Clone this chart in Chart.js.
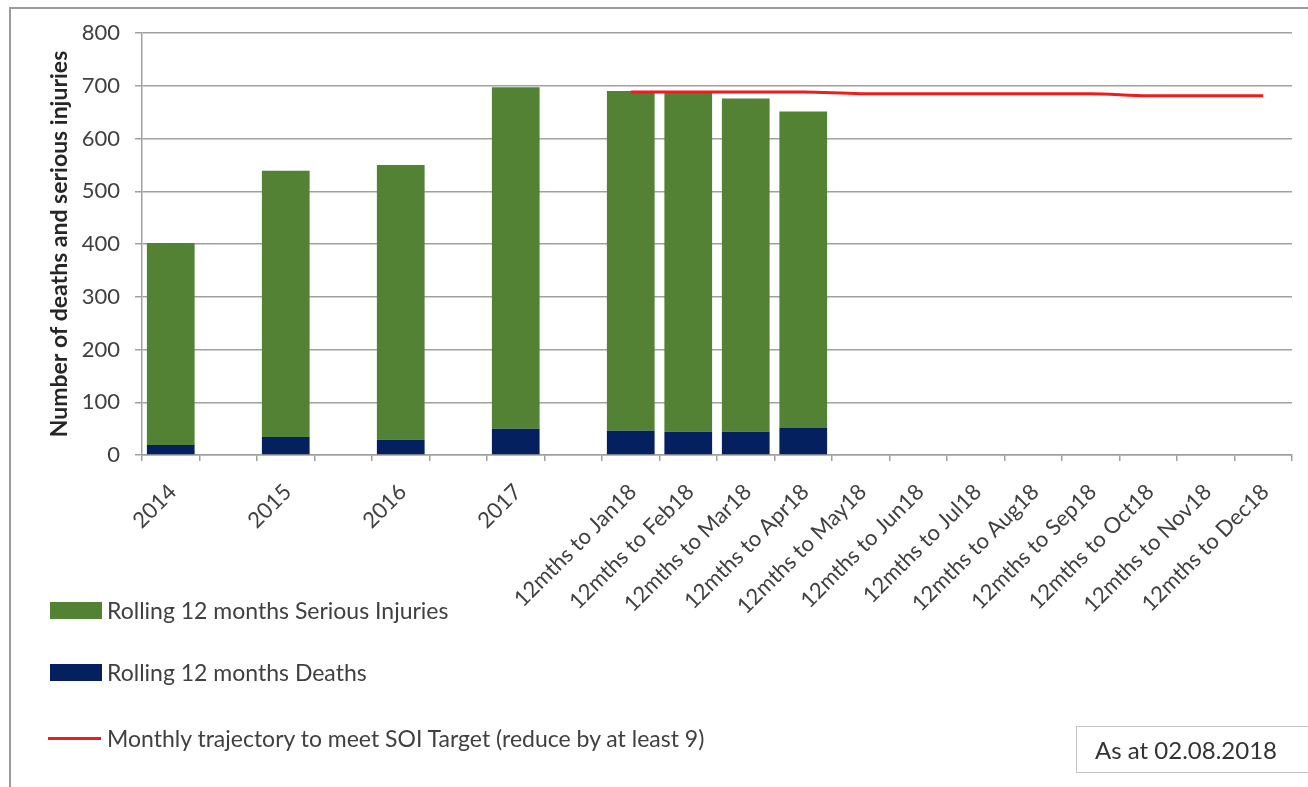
<!DOCTYPE html>
<html>
<head>
<meta charset="utf-8">
<title>Rolling 12 months deaths and serious injuries</title>
<script src="https://cdn.jsdelivr.net/npm/chart.js@4.4.1/dist/chart.umd.min.js"></script>
<style>
  html, body { margin: 0; padding: 0; background: #fff; }
  #wrap { position: relative; width: 1308px; height: 787px; overflow: hidden; font-family: Lato, "Open Sans", sans-serif; }
  #frame { position: absolute; left: 9px; top: 7px; width: 1400px; height: 900px;
           border-left: 2px solid #9c9c9c; border-top: 2px solid #9c9c9c; }
  #chart { position: absolute; left: 0; top: 0; }
  .item { position: absolute; left: 50px; height: 30px; display: flex; align-items: center;
          font-size: 23px; color: #404040; white-space: nowrap; }
  .swatch { width: 52px; height: 17px; margin-right: 5px; }
  .stroke { width: 53px; height: 3px; margin-right: 6px; }
  #stamp { position: absolute; left: 1076px; top: 726px; width: 240px; height: 47px; box-sizing: border-box;
           border: 1px solid #c4c4c4; font-size: 24px; color: #333; line-height: 45px; padding-left: 18px; }
</style>
</head>
<body>
<div id="wrap">
  <div id="frame"></div>
  <canvas id="chart" width="1308" height="787"></canvas>
  <div id="legend"></div>
  <div id="stamp">As at 02.08.2018</div>
</div>
<script>
// Category axis: calendar years, spacer slots, then rolling 12-month periods of 2018
const categories = [
  '2014', '', '2015', '', '2016', '', '2017', '',
  '12mths to Jan18', '12mths to Feb18', '12mths to Mar18', '12mths to Apr18',
  '12mths to May18', '12mths to Jun18', '12mths to Jul18', '12mths to Aug18',
  '12mths to Sep18', '12mths to Oct18', '12mths to Nov18', '12mths to Dec18'
];

// Rolling 12 months deaths (bottom of each stack)
const deaths = [19, null, 34, null, 29, null, 50, null, 46, 44, 44, 52,
                null, null, null, null, null, null, null, null];

// Rolling 12 months serious injuries (stacked on deaths)
const seriousInjuries = [383, null, 505, null, 521, null, 647, null, 644, 643, 632, 599,
                         null, null, null, null, null, null, null, null];

// Monthly trajectory to meet the SOI target
const trajectory = [null, null, null, null, null, null, null, null,
                    688, 688, 688, 688, 685, 685, 685, 685, 685, 681, 681, 681];

const yTicks = { min: 0, max: 800, step: 100 };

const GREEN = '#548235';
const NAVY = '#05205f';
const RED = '#f01c1c';
const GRID = '#a0a0a0';
const TEXT = '#404040';

const ctx = document.getElementById('chart').getContext('2d');
const chart = new Chart(ctx, {
  type: 'bar',
  data: {
    labels: categories,
    datasets: [
      { label: 'Rolling 12 months Deaths', data: deaths, backgroundColor: NAVY,
        stack: 'total', barPercentage: 0.83, categoryPercentage: 1, order: 2 },
      { label: 'Rolling 12 months Serious Injuries', data: seriousInjuries, backgroundColor: GREEN,
        stack: 'total', barPercentage: 0.83, categoryPercentage: 1, order: 2 },
      { type: 'line', label: 'Monthly trajectory to meet SOI Target (reduce by at least 9)',
        data: trajectory, borderColor: RED, backgroundColor: RED, borderWidth: 3,
        pointRadius: 0, cubicInterpolationMode: 'monotone', spanGaps: false, order: 1 }
    ]
  },
  options: {
    responsive: false,
    animation: false,
    layout: { padding: { top: 33, right: 16, bottom: 0, left: 0 } },
    plugins: { legend: { display: false }, tooltip: { enabled: false } },
    scales: {
      x: {
        stacked: true,
        offset: true,
        grid: { display: true, drawOnChartArea: false, drawTicks: true, tickLength: 6,
                offset: true, color: GRID, lineWidth: 1.5 },
        border: { display: true, color: GRID, width: 1.5 },
        ticks: { autoSkip: false, minRotation: 45, maxRotation: 45, padding: 18, labelOffset: 2,
                 color: TEXT, font: { family: 'Lato', size: 22 } },
        afterFit: (scale) => { scale.height = 332; }
      },
      y: {
        stacked: true,
        min: yTicks.min, max: yTicks.max,
        ticks: { stepSize: yTicks.step, padding: 15, color: TEXT, font: { family: 'Lato', size: 22 } },
        grid: { color: GRID, lineWidth: 1.5, tickLength: 7 },
        border: { display: true, color: GRID, width: 1.5 },
        title: { display: true, text: 'Number of deaths and serious injuries', color: '#262626',
                 font: { family: 'Lato', size: 23, weight: 'bold' }, padding: { top: 46, bottom: 0 } },
        afterFit: (scale) => { scale.width = 142; }
      }
    }
  }
});

// Legend built from the chart's own datasets, listed top to bottom
const legend = document.getElementById('legend');
const legendRows = [
  { index: 1, centerY: 610 },
  { index: 0, centerY: 672 },
  { index: 2, centerY: 738 }
];
legendRows.forEach(row => {
  const ds = chart.data.datasets[row.index];
  const item = document.createElement('div');
  item.className = 'item';
  item.style.top = (row.centerY - 15) + 'px';
  const mark = document.createElement('span');
  if (ds.type === 'line') {
    mark.className = 'stroke';
    mark.style.background = ds.borderColor;
    item.style.left = '48px';
  } else {
    mark.className = 'swatch';
    mark.style.background = ds.backgroundColor;
  }
  const text = document.createElement('span');
  text.textContent = ds.label;
  item.appendChild(mark);
  item.appendChild(text);
  legend.appendChild(item);
});
</script>
</body>
</html>
